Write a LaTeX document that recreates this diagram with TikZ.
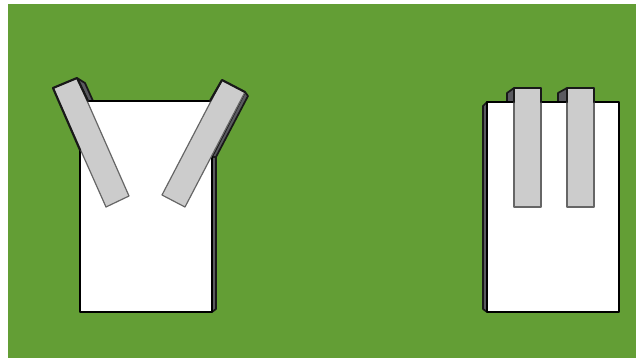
\documentclass[tikz,border=0pt]{standalone}
\definecolor{grass}{HTML}{639E35}
\definecolor{strapgray}{HTML}{CCCCCC}
\definecolor{sidegray}{HTML}{5A5A60}
\tikzset{
 body/.style={fill=white,draw=black,line width=1.5pt,line join=round},
 side/.style={fill=sidegray,draw=black!90,line width=1.3pt,line join=round},
 strap/.style={fill=strapgray,draw=black!60,line width=.9pt,line join=round},
 outline/.style={draw=black!90,line width=1.6pt,line cap=round,line join=round}
}
\begin{document}
\begin{tikzpicture}[x=0.75pt,y=-0.75pt]
\useasboundingbox (0,0) rectangle (636,358);
\fill[white] (0,0) rectangle (636,358);
\fill[grass] (8,4) rectangle (636,358);
% left panel
\draw[side] (212,157) -- (216,157) -- (216,309) -- (212,312) -- cycle;
\draw[side] (77,78) -- (85,83) -- (93,101) -- (88,101) -- cycle;
\draw[side] (245,92) -- (248,96) -- (216,157) -- (212,157) -- cycle;
\draw[body] (80,101) -- (212,101) -- (212,312) -- (80,312) -- cycle;
\draw[strap] (53,88) -- (77,78) -- (129,196) -- (106,207) -- cycle;
\draw[strap] (222,80) -- (245,92) -- (185,207) -- (162,195) -- cycle;
\draw[outline] (80,150) -- (53,88) -- (77,78) -- (88,101);
\draw[outline] (210,101) -- (222,80) -- (245,92);
% right panel
\draw[side] (483,106) -- (487,102) -- (487,312) -- (483,309) -- cycle;
\draw[side] (507,93) -- (514,88) -- (514,102) -- (507,102) -- cycle;
\draw[side] (558,93) -- (567,88) -- (567,102) -- (558,102) -- cycle;
\draw[body] (487,102) -- (619,102) -- (619,312) -- (487,312) -- cycle;
\draw[strap] (514,88) -- (541,88) -- (541,207) -- (514,207) -- cycle;
\draw[strap] (567,88) -- (594,88) -- (594,207) -- (567,207) -- cycle;
\draw[outline] (514,102) -- (514,88) -- (541,88) -- (541,102);
\draw[outline] (567,102) -- (567,88) -- (594,88) -- (594,102);
\end{tikzpicture}
\end{document}
